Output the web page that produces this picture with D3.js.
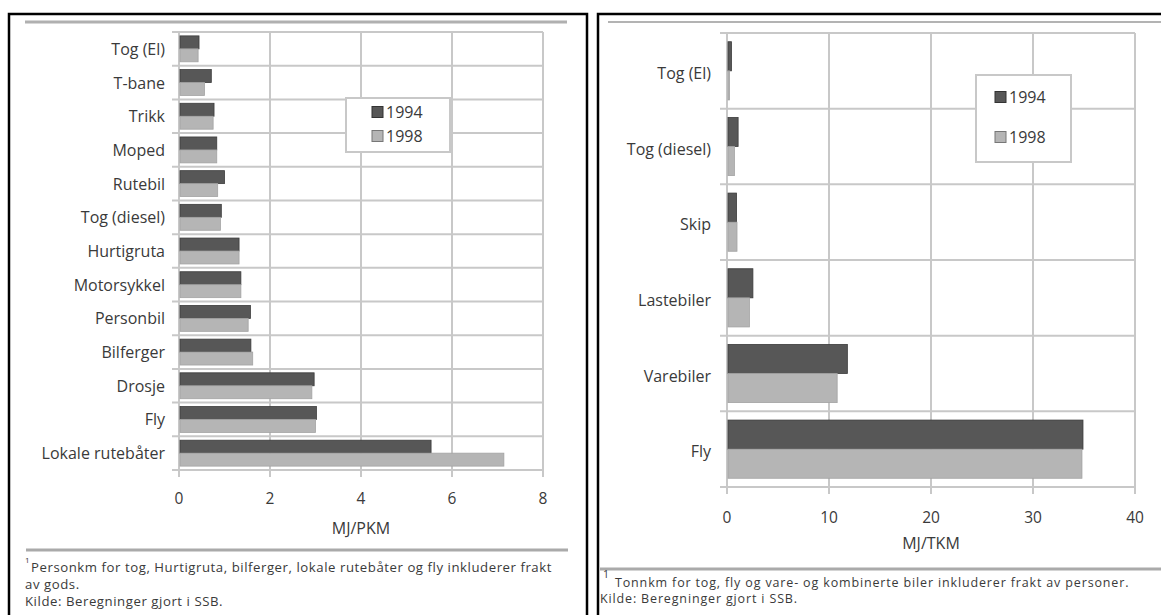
<!DOCTYPE html>
<html>
<head>
<meta charset="utf-8">
<script src="https://cdn.jsdelivr.net/npm/d3@7/dist/d3.min.js"></script>
<style>
  html, body { margin: 0; padding: 0; background: #fff; }
  svg { display: block; }
  text { font-family: "Open Sans", "Noto Sans", sans-serif; fill: #3a3a3a; }
</style>
</head>
<body>
<svg id="chart" width="1161" height="615"></svg>
<script>
// Energy use per transport unit, 1994 vs 1998
const years = ["1994", "1998"];

// Passenger transport (MJ per passenger-km)
const personCategories = ["Tog (El)", "T-bane", "Trikk", "Moped", "Rutebil", "Tog (diesel)",
  "Hurtigruta", "Motorsykkel", "Personbil", "Bilferger", "Drosje", "Fly", "Lokale rutebåter"];
const person1994 = [0.44, 0.71, 0.77, 0.83, 1.00, 0.93, 1.32, 1.36, 1.57, 1.58, 2.97, 3.02, 5.54];
const person1998 = [0.42, 0.56, 0.75, 0.83, 0.85, 0.91, 1.32, 1.36, 1.52, 1.62, 2.92, 3.00, 7.14];
const personTicks = [0, 2, 4, 6, 8];

// Freight transport (MJ per tonne-km)
const freightCategories = ["Tog (El)", "Tog (diesel)", "Skip", "Lastebiler", "Varebiler", "Fly"];
const freight1994 = [0.44, 1.09, 0.94, 2.54, 11.8, 34.9];
const freight1998 = [0.25, 0.73, 0.98, 2.20, 10.8, 34.8];
const freightTicks = [0, 10, 20, 30, 40];

const colors = { "1994": "#575757", "1998": "#b5b5b5" };
const strokes = { "1994": "#3c3c3c", "1998": "#a3a3a3" };
const gridColor = "#c8c8c8";

const svg = d3.select("#chart");
svg.append("rect").attr("width", 1161).attr("height", 615).attr("fill", "#fff");

function drawPanel(cfg) {
  const g = svg.append("g");
  const x = d3.scaleLinear().domain([cfg.ticks[0], cfg.ticks[cfg.ticks.length - 1]])
    .range([cfg.left, cfg.right]);
  const row = d3.scaleBand().domain(cfg.categories).range([cfg.top, cfg.bottom]).padding(0);
  const sub = d3.scaleBand().domain(years).range([0, row.bandwidth()])
    .paddingInner(0).paddingOuter(0.3);

  // horizontal gridlines at row boundaries (with small left ticks)
  const bounds = cfg.categories.map(c => row(c)).concat([cfg.bottom]);
  g.selectAll(".hgrid").data(bounds).join("line")
    .attr("x1", cfg.left - 7).attr("x2", cfg.right)
    .attr("y1", d => d).attr("y2", d => d)
    .attr("stroke", gridColor).attr("stroke-width", 2);

  // vertical gridlines at value ticks (with small bottom ticks)
  g.selectAll(".vgrid").data(cfg.ticks).join("line")
    .attr("x1", d => x(d)).attr("x2", d => x(d))
    .attr("y1", cfg.top).attr("y2", cfg.bottom + 7)
    .attr("stroke", gridColor).attr("stroke-width", 2);

  // bars
  const series = [{ year: "1994", values: cfg.v1994 }, { year: "1998", values: cfg.v1998 }];
  series.forEach(s => {
    g.selectAll(null).data(cfg.categories).join("rect")
      .attr("x", x(0) + 1)
      .attr("y", c => row(c) + sub(s.year))
      .attr("width", (c, i) => Math.max(0, x(s.values[i]) - x(0) - 1))
      .attr("height", sub.bandwidth())
      .attr("fill", colors[s.year])
      .attr("stroke", strokes[s.year]).attr("stroke-width", 0.8);
  });

  // category labels
  g.selectAll(".cat").data(cfg.categories).join("text")
    .attr("x", cfg.labelX)
    .attr("y", c => row(c) + row.bandwidth() / 2 + cfg.labelDy)
    .attr("text-anchor", "end").attr("dominant-baseline", "central")
    .attr("font-size", cfg.fontSize)
    .text(c => c);

  // value tick labels
  g.selectAll(".tick").data(cfg.ticks).join("text")
    .attr("x", d => x(d)).attr("y", cfg.tickY)
    .attr("text-anchor", "middle").attr("dominant-baseline", "central")
    .attr("font-size", cfg.fontSize - 0.5)
    .text(d => d);

  // axis title
  g.append("text")
    .attr("x", (cfg.left + cfg.right) / 2).attr("y", cfg.titleY)
    .attr("text-anchor", "middle").attr("dominant-baseline", "central")
    .attr("font-size", cfg.fontSize)
    .text(cfg.axisTitle);

  // legend
  const lg = g.append("g");
  lg.append("rect")
    .attr("x", cfg.legend.x).attr("y", cfg.legend.y)
    .attr("width", cfg.legend.w).attr("height", cfg.legend.h)
    .attr("fill", "#fff").attr("stroke", gridColor).attr("stroke-width", 2);
  years.forEach((yr, i) => {
    const cy = cfg.legend.rowY[i];
    lg.append("rect")
      .attr("x", cfg.legend.swX).attr("y", cy - 5.5)
      .attr("width", 11).attr("height", 11)
      .attr("fill", colors[yr]).attr("stroke", i === 0 ? "#333" : "#777").attr("stroke-width", 1);
    lg.append("text")
      .attr("x", cfg.legend.swX + 14).attr("y", cy)
      .attr("dominant-baseline", "central")
      .attr("font-size", cfg.fontSize)
      .text(yr);
  });
}

// frames
svg.append("path")
  .attr("d", "M9,615 L9,14 L587,14 L587,615")
  .attr("fill", "none").attr("stroke", "#000").attr("stroke-width", 2.5);
svg.append("path")
  .attr("d", "M598,615 L598,14 L1161,14")
  .attr("fill", "none").attr("stroke", "#000").attr("stroke-width", 2.5);

// header rules
svg.append("line").attr("x1", 25).attr("x2", 567).attr("y1", 22).attr("y2", 22)
  .attr("stroke", "#b0b0b0").attr("stroke-width", 3);
svg.append("line").attr("x1", 608).attr("x2", 1161).attr("y1", 22).attr("y2", 22)
  .attr("stroke", "#9a9a9a").attr("stroke-width", 1.5);

drawPanel({
  categories: personCategories, v1994: person1994, v1998: person1998, ticks: personTicks,
  left: 179, right: 543, top: 32, bottom: 470,
  labelX: 165, labelDy: 0, tickY: 498, titleY: 528, axisTitle: "MJ/PKM", fontSize: 16,
  legend: { x: 346, y: 98, w: 104, h: 54, swX: 372, rowY: [112, 136] }
});

drawPanel({
  categories: freightCategories, v1994: freight1994, v1998: freight1998, ticks: freightTicks,
  left: 727, right: 1135, top: 33, bottom: 487,
  labelX: 711, labelDy: 2, tickY: 517, titleY: 543, axisTitle: "MJ/TKM", fontSize: 16,
  legend: { x: 976, y: 75, w: 95, h: 87, swX: 995, rowY: [97, 137] }
});

// footer rules
svg.append("line").attr("x1", 26).attr("x2", 568).attr("y1", 550).attr("y2", 550)
  .attr("stroke", "#aaaaaa").attr("stroke-width", 3);
svg.append("line").attr("x1", 600).attr("x2", 1161).attr("y1", 569).attr("y2", 569)
  .attr("stroke", "#aaaaaa").attr("stroke-width", 3);

// footnotes, passenger panel
const fn = svg.append("g").attr("font-size", 13.2).attr("letter-spacing", 0.55);
fn.append("text").attr("x", 25).attr("y", 563).attr("font-size", 8).text("1");
fn.append("text").attr("x", 31).attr("y", 567).attr("dominant-baseline", "central")
  .text("Personkm for tog, Hurtigruta, bilferger, lokale rutebåter og fly inkluderer frakt");
fn.append("text").attr("x", 25).attr("y", 584).attr("dominant-baseline", "central")
  .text("av gods.");
fn.append("text").attr("x", 25).attr("y", 601).attr("dominant-baseline", "central")
  .text("Kilde: Beregninger gjort i SSB.");

// footnotes, freight panel
const fn2 = svg.append("g").attr("font-size", 12.5).attr("letter-spacing", 0.85);
fn2.append("text").attr("x", 603).attr("y", 578).attr("font-size", 10.5).attr("letter-spacing", 0).text("1");
fn2.append("text").attr("x", 615).attr("y", 582).attr("dominant-baseline", "central")
  .text("Tonnkm for tog, fly og vare- og kombinerte biler inkluderer frakt av personer.");
fn2.append("text").attr("x", 600).attr("y", 598).attr("dominant-baseline", "central")
  .text("Kilde: Beregninger gjort i SSB.");
</script>
</body>
</html>
